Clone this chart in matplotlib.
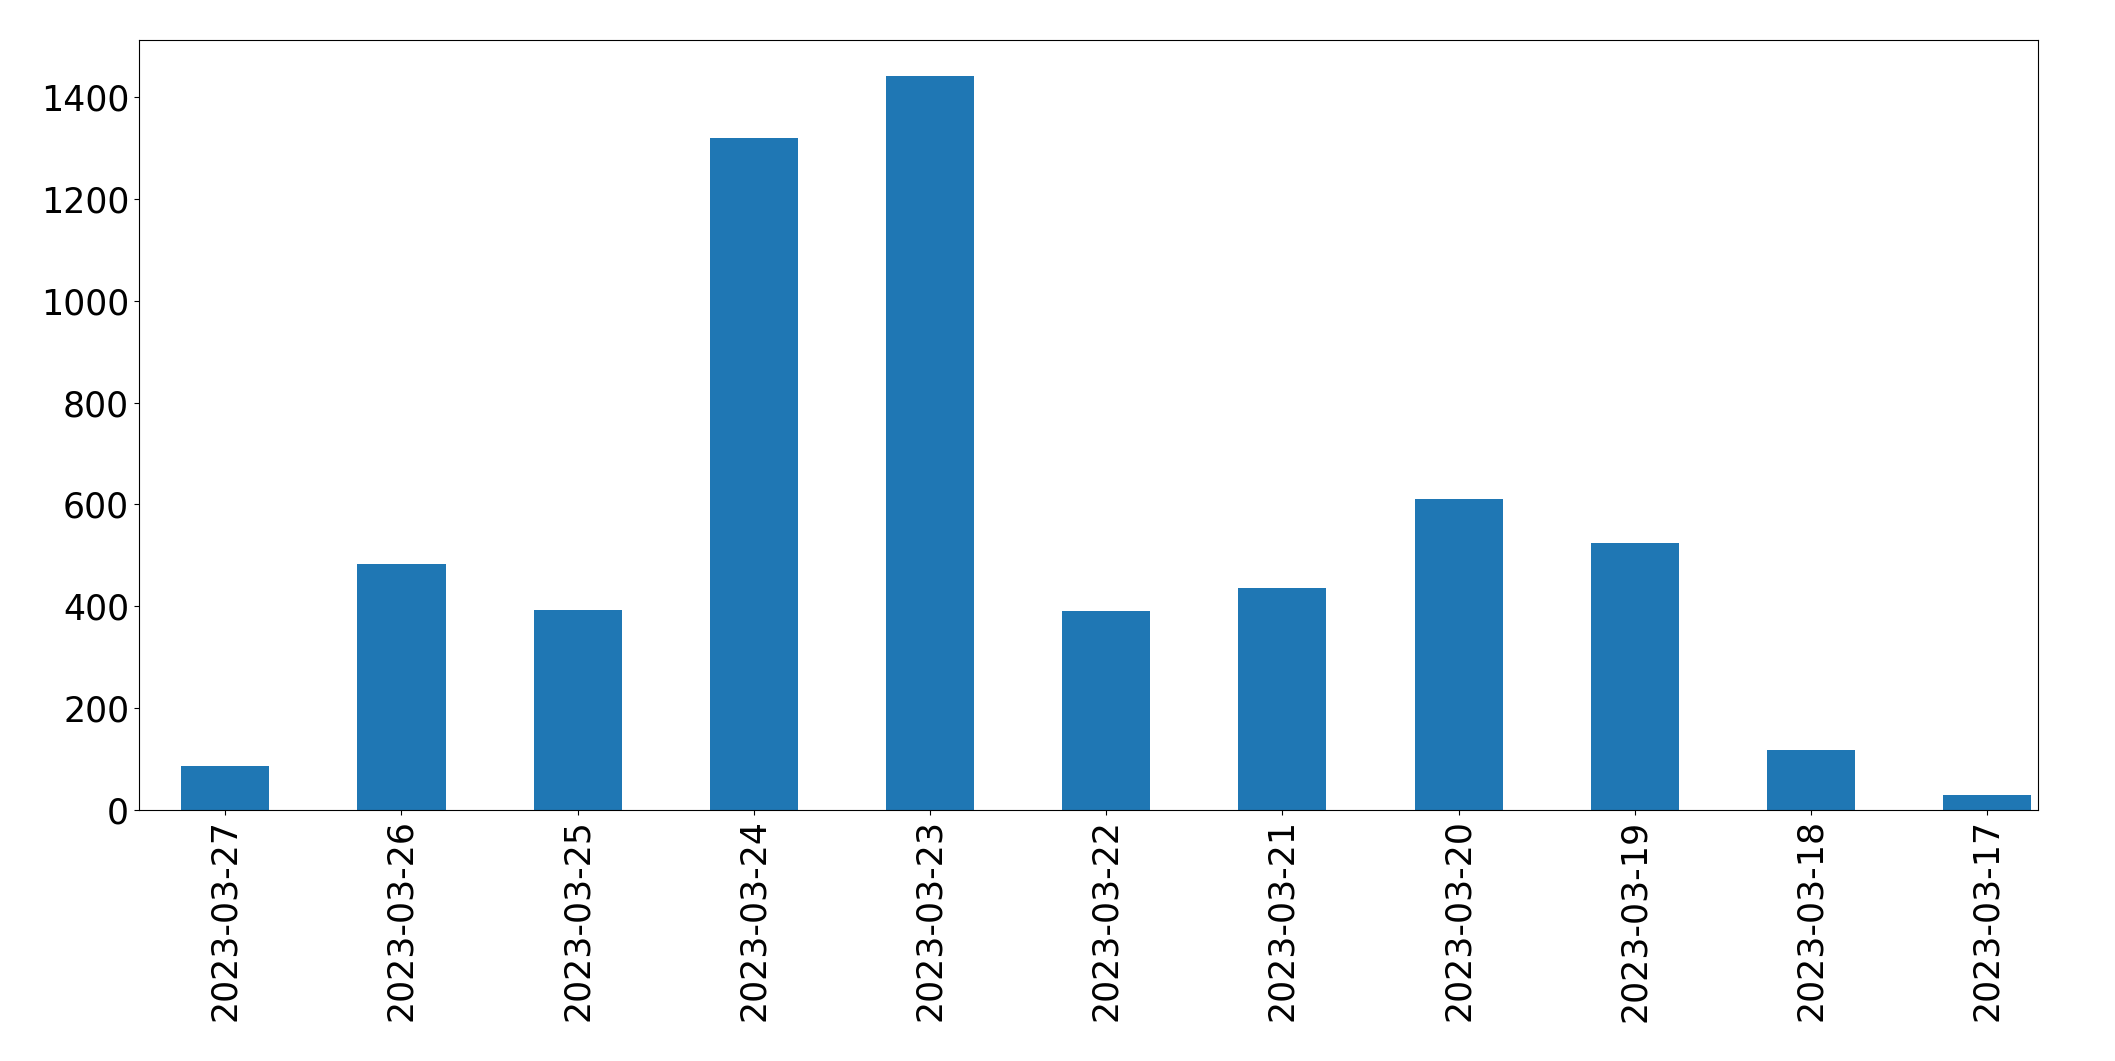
import matplotlib
matplotlib.use("Agg")
import matplotlib.pyplot as plt

dates = ["2023-03-27","2023-03-26","2023-03-25","2023-03-24","2023-03-23","2023-03-22",
         "2023-03-21","2023-03-20","2023-03-19","2023-03-18","2023-03-17"]
counts = [85, 483, 393, 1320, 1441, 390, 436, 611, 523, 117, 29]

fig = plt.figure(figsize=(21.15, 10.61), dpi=100)
ax = fig.add_axes([0.0657, 0.237, 0.898, 0.725])
x = range(len(dates))
ax.bar(x, counts, width=0.5, color="#1f77b4")
ax.set_xticks(list(x))
ax.set_xticklabels(dates, rotation=90)
ax.set_xlim(-0.49, len(dates) - 1 + 0.29)
ax.set_ylim(0, 1512)
ax.tick_params(labelsize=25)
fig.savefig("out.png", dpi=100)
